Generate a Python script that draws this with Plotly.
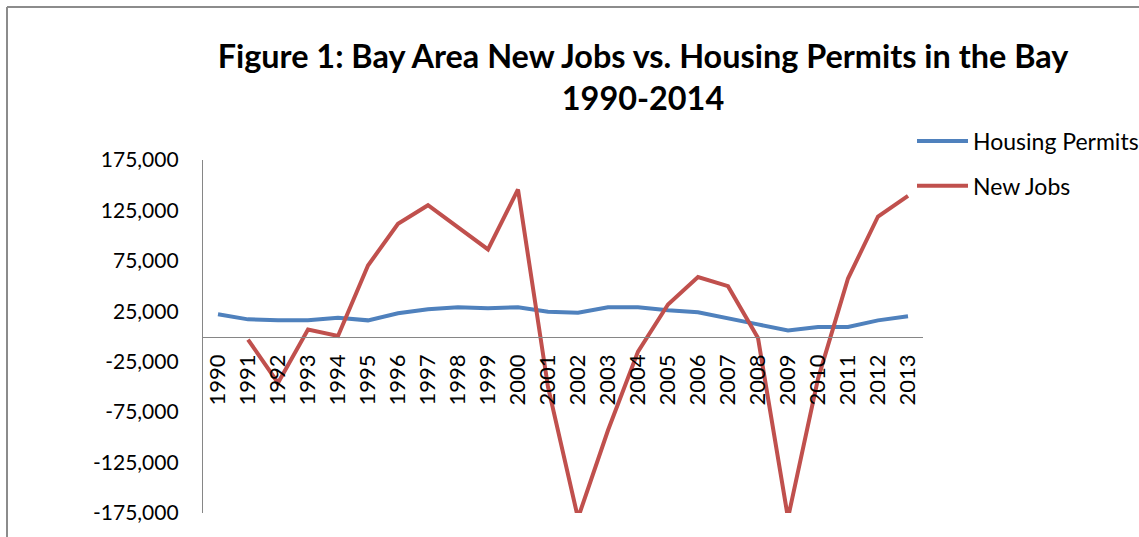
import plotly.graph_objects as go

years = [str(y) for y in range(1990, 2014)]
housing_permits = [22000, 17000, 16000, 16000, 18500, 16000, 23000, 27000, 29000, 28000,
                   29000, 24500, 23500, 29000, 29000, 26000, 24000, 17500, 12000, 6000,
                   9500, 9500, 16000, 20000]
new_jobs = [None, -3000, -46000, 7000, 500, 70400, 111700, 130200, 107800, 86300,
            145800, -50000, -180000, -93000, -15000, 31700, 59000, 49900, -1500, -180000,
            -42000, 57500, 119000, 139500]
y_ticks = [175000, 125000, 75000, 25000, -25000, -75000, -125000, -175000]
y_tick_text = ["175,000", "125,000", "75,000", "25,000", "-25,000", "-75,000", "-125,000", "-175,000"]

FONT = "Lato"
AXIS_GREY = "#868686"

fig = go.Figure()
fig.add_trace(go.Scatter(x=years, y=housing_permits, mode="lines", name="Housing Permits",
                         line=dict(color="#4F81BD", width=4), legendgroup="a"))
fig.add_trace(go.Scatter(x=years, y=new_jobs, mode="lines", name="New Jobs",
                         line=dict(color="#C0504D", width=4), legendgroup="b"))

L, R, T, B = 203, 1139 - 923, 160, 537 - 513
W, H = 1139, 537
pw, ph = W - L - R, H - T - B
bx = (7 - L) / pw
by = (H - B - 7) / ph

fig.update_layout(
    width=W, height=H,
    margin=dict(l=L, r=R, t=T, b=B, autoexpand=False),
    paper_bgcolor="white", plot_bgcolor="white",
    font=dict(family=FONT, color="#000000", size=22),
    title=dict(text="<b>Figure 1: Bay Area New Jobs vs. Housing Permits in the Bay<br>1990-2014</b>",
               x=643 / W, xanchor="center", y=1 - 68 / H, yanchor="top",
               font=dict(family=FONT, size=32.4, color="#000000")),
    xaxis=dict(type="category", range=[-0.5, 23.5], anchor="free", position=0.5,
               showline=True, linecolor=AXIS_GREY, linewidth=1.3, showgrid=False,
               ticks="", tickangle=-90, tickfont=dict(size=22), zeroline=False,
               ticklabelstandoff=8),
    yaxis=dict(range=[-175000, 175000], tickvals=y_ticks, ticktext=y_tick_text,
               showline=True, linecolor=AXIS_GREY, linewidth=1.3, showgrid=False,
               ticks="", zeroline=False, tickfont=dict(size=21),
               ticklabelstandoff=19),
    legend=dict(x=(912 - L) / pw, xanchor="left", y=(H - B - 119.5) / ph, yanchor="top",
                font=dict(size=23), itemwidth=51, tracegroupgap=12,
                bgcolor="rgba(0,0,0,0)"),
    showlegend=True,
    shapes=[
        dict(type="line", xref="paper", yref="paper", x0=bx, x1=1.5, y0=by, y1=by,
             line=dict(color="#8c8c8c", width=2)),
        dict(type="line", xref="paper", yref="paper", x0=bx, x1=bx, y0=by, y1=-0.2,
             line=dict(color="#8c8c8c", width=2)),
    ],
)

fig.write_html("out.html", config={"displayModeBar": False},
               post_script="document.body.style.margin='0px';")
